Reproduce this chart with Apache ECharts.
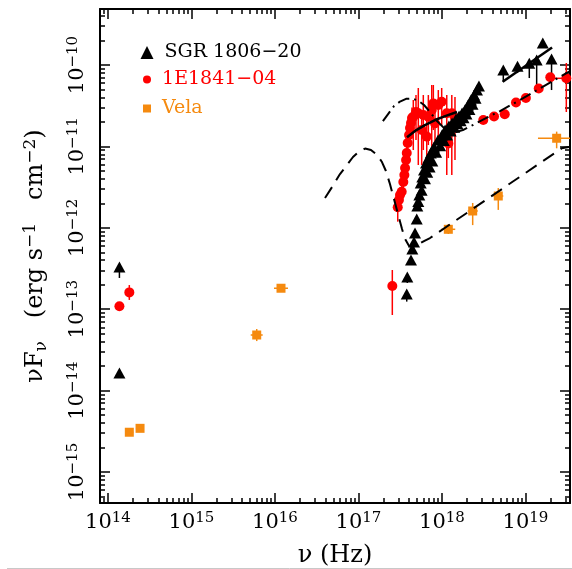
<!DOCTYPE html>
<html><head><meta charset="utf-8">
<script src="https://cdn.jsdelivr.net/npm/echarts@6/dist/echarts.min.js"></script>
<style>html,body{margin:0;padding:0;background:#fff}#c{width:572px;height:569px}</style>
</head><body><div id="c"></div>
<script>
// ---- axis ranges and ticks ----
const X_RANGE = [8.02e13, 3.41e19];
const Y_RANGE = [4.16e-16, 4.88e-10];
const xTickExps = [14, 15, 16, 17, 18, 19];
const yTickExps = [-15, -14, -13, -12, -11, -10];

// ---- SGR 1806-20 (black triangles) ----
const sgrNu = [1.37e14, 1.37e14, 3.78e17, 3.84e17, 4.25e17, 4.41e17, 4.62e17, 4.75e17, 4.98e17, 5.06e17, 5.35e17, 5.56e17, 5.81e17, 6.09e17, 6.43e17, 6.86e17, 7.33e17, 8.02e17, 8.96e17, 1.00e18, 1.09e18, 1.21e18, 1.32e18, 1.47e18, 1.60e18, 1.74e18, 1.88e18, 2.05e18, 2.22e18, 2.42e18, 2.62e18, 2.77e18, 5.42e18, 8.02e18, 1.11e19, 1.36e19, 1.61e19, 2.05e19];
const sgrF = [3.30e-13, 1.64e-14, 1.54e-13, 2.49e-13, 4.02e-13, 5.49e-13, 6.69e-13, 8.63e-13, 1.28e-12, 1.85e-12, 2.53e-12, 3.55e-12, 4.21e-12, 5.13e-12, 6.25e-12, 7.20e-12, 8.30e-12, 9.83e-12, 1.20e-11, 1.38e-11, 1.59e-11, 1.78e-11, 1.94e-11, 2.17e-11, 2.36e-11, 2.57e-11, 2.80e-11, 3.23e-11, 3.72e-11, 4.28e-11, 4.93e-11, 5.52e-11, 8.68e-11, 9.64e-11, 1.05e-10, 1.15e-10, 1.86e-10, 1.19e-10];
const sgrFLo = [2.42e-13, null, 1.24e-13, 2.10e-13, null, null, null, null, null, null, null, null, null, null, null, null, null, null, null, null, null, null, null, null, null, null, null, null, null, null, null, null, 6.18e-11, 7.97e-11, 6.92e-11, 5.22e-11, null, 4.93e-11];
const sgrFHi = [];
// extra SGR spectral bins in the dense 1-10 keV band
const sgrBandNu = [5.20e17, 5.70e17, 6.25e17, 6.65e17, 7.10e17, 7.65e17, 8.50e17, 9.50e17, 1.05e18, 1.15e18, 1.27e18, 1.40e18, 1.53e18, 1.67e18, 1.81e18, 1.96e18, 2.13e18, 2.32e18, 2.52e18];
const sgrBandF = [2.10e-12, 2.90e-12, 4.00e-12, 4.80e-12, 5.60e-12, 6.60e-12, 8.50e-12, 1.02e-11, 1.18e-11, 1.38e-11, 1.55e-11, 1.72e-11, 1.90e-11, 2.07e-11, 2.25e-11, 2.50e-11, 2.85e-11, 3.30e-11, 3.90e-11];

// ---- 1E1841-045 (red circles) ----
const axpNu = [1.37e14, 1.80e14, 2.54e17, 2.95e17, 3.05e17, 3.14e17, 3.29e17, 3.44e17, 3.54e17, 3.61e17, 3.71e17, 3.78e17, 3.88e17, 4.03e17, 4.14e17, 4.25e17, 4.37e17, 4.53e17, 4.88e17, 5.20e17, 5.71e17, 5.97e17, 6.56e17, 6.86e17, 7.53e17, 7.87e17, 8.24e17, 9.03e17, 9.91e17, 1.14e18, 1.19e18, 1.31e18, 1.43e18, 3.12e18, 4.20e18, 5.64e18, 7.69e18, 1.01e19, 1.44e19, 1.98e19, 3.08e19];
const axpF = [1.09e-13, 1.61e-13, 1.93e-13, 1.79e-12, 2.20e-12, 2.53e-12, 2.77e-12, 3.65e-12, 4.45e-12, 5.43e-12, 6.81e-12, 8.30e-12, 1.10e-11, 1.38e-11, 1.68e-11, 1.94e-11, 2.23e-11, 2.32e-11, 2.65e-11, 2.55e-11, 1.59e-11, 2.43e-11, 1.32e-11, 2.32e-11, 2.80e-11, 3.38e-11, 1.92e-11, 3.23e-11, 3.54e-11, 2.55e-11, 1.09e-11, 2.55e-11, 2.23e-11, 2.11e-11, 2.33e-11, 2.49e-11, 3.46e-11, 3.93e-11, 5.14e-11, 7.06e-11, 6.87e-11];
const axpFLo = [null, 1.30e-13, 8.49e-14, 1.19e-12, 1.80e-12, 2.00e-12, 2.30e-12, 3.00e-12, 3.60e-12, 4.40e-12, 5.50e-12, 6.80e-12, 8.80e-12, 1.05e-11, 1.30e-11, 1.40e-11, 1.60e-11, 9.03e-12, 1.20e-11, 5.91e-12, 5.91e-12, 9.03e-12, 6.81e-12, 1.04e-11, 9.03e-12, 1.59e-11, 7.84e-12, 1.20e-11, 1.83e-11, 4.45e-12, 7.20e-12, 4.45e-12, 6.81e-12, null, null, null, null, null, null, null, 2.65e-11];
const axpFHi = [null, 1.98e-13, 3.03e-13, 2.30e-12, 2.70e-12, 3.10e-12, 3.40e-12, 4.40e-12, 5.50e-12, 6.60e-12, 8.40e-12, 1.00e-11, 1.35e-11, 1.80e-11, 2.20e-11, 2.60e-11, 3.00e-11, 3.72e-11, 4.28e-11, 5.22e-11, 2.80e-11, 4.28e-11, 2.43e-11, 4.28e-11, 5.68e-11, 5.68e-11, 3.23e-11, 4.93e-11, 5.22e-11, 4.28e-11, 1.59e-11, 4.28e-11, 4.04e-11, null, null, null, null, null, null, null, 1.06e-10];
const axpNuLo = []; axpNuLo[40] = 1.97e19;
const axpNuHi = []; axpNuHi[40] = 3.55e19;

// ---- Vela (orange squares) ----
const velaNu = [1.80e14, 2.42e14, 6.04e15, 1.18e16, 1.19e18, 2.33e18, 4.72e18, 2.36e19];
const velaF = [3.08e-15, 3.44e-15, 4.82e-14, 1.81e-13, 9.59e-13, 1.61e-12, 2.46e-12, 1.26e-11];
const velaNuLo = [1.61e14, 2.16e14, 5.12e15, 9.73e15, 9.81e17, 2.03e18, 4.11e18, 1.41e19];
const velaNuHi = [2.01e14, 2.70e14, 7.12e15, 1.43e16, 1.44e18, 2.68e18, 5.42e18, 3.41e19];
const velaFLo = [2.81e-15, 3.20e-15, 4.06e-14, 1.65e-13, 8.39e-13, 1.08e-12, 1.66e-12, 9.48e-12];
const velaFHi = [3.37e-15, 3.70e-15, 5.71e-14, 1.98e-13, 1.11e-12, 2.02e-12, 3.08e-12, 1.52e-11];

// ---- model curves ----
const dashNu = [3.97e16, 4.82e16, 6.00e16, 7.28e16, 8.59e16, 1.01e17, 1.20e17, 1.41e17, 1.67e17, 1.91e17, 2.13e17, 2.38e17, 2.66e17, 2.97e17, 3.32e17, 3.61e17, 4.03e17, 4.50e17, 5.16e17, 6.25e17, 7.18e17, 2.71e19, 3.41e19];
const dashF = [2.32e-12, 3.17e-12, 4.58e-12, 5.91e-12, 7.41e-12, 8.66e-12, 9.42e-12, 9.03e-12, 7.84e-12, 6.43e-12, 4.99e-12, 3.45e-12, 2.26e-12, 1.48e-12, 9.67e-13, 7.29e-13, 5.98e-13, 5.81e-13, 6.23e-13, 6.98e-13, 7.49e-13, 9.48e-12, 9.92e-12];
const dashDotNu = [1.96e17, 2.26e17, 2.66e17, 3.14e17, 3.71e17, 4.37e17, 5.16e17, 6.09e17, 7.18e17, 8.71e17, 1.06e18, 1.25e18, 1.47e18, 1.78e18, 2.29e18, 3.27e18, 4.95e18, 8.59e18, 1.49e19, 2.59e19, 3.41e19];
const dashDotF = [2.05e-11, 2.50e-11, 3.13e-11, 3.56e-11, 3.84e-11, 3.88e-11, 3.66e-11, 3.23e-11, 2.65e-11, 2.05e-11, 1.68e-11, 1.52e-11, 1.50e-11, 1.59e-11, 1.81e-11, 2.20e-11, 2.72e-11, 3.72e-11, 5.17e-11, 7.18e-11, 8.44e-11];
const solidSoftNu = [3.81e17, 4.75e17, 6.25e17, 8.24e17, 1.09e18, 1.51e18];
const solidSoftF = [1.30e-11, 1.55e-11, 1.83e-11, 2.11e-11, 2.36e-11, 2.65e-11];
const solidHardNu = [5.33e18, 2.08e19];
const solidHardF = [6.24e-11, 1.64e-10];

// ---- names / colours ----
const NAME_SGR = 'SGR 1806\u221220';
const NAME_AXP = '1E1841\u221204';
const NAME_VELA = 'Vela';
const C_BLACK = '#000000', C_RED = '#ff0000', C_ORANGE = '#f58a0f';
const FONT = 'DejaVu Serif';

const L = Math.log10;
function minorTicks(lo, hi) {
  const out = [];
  for (let d = Math.floor(lo) - 1; d <= Math.ceil(hi); d++)
    for (let k = 2; k <= 9; k++) { const v = d + L(k); if (v > lo && v < hi) out.push(v); }
  return out;
}
const xMin = L(X_RANGE[0]), xMax = L(X_RANGE[1]);
const yMin = L(Y_RANGE[0]), yMax = L(Y_RANGE[1]);
const xMinor = minorTicks(xMin, xMax), yMinor = minorTicks(yMin, yMax);

function pts(nu, f) { return nu.map((v, i) => [L(v), L(f[i])]); }
function errPts(nu, f, nLo, nHi, fLo, fHi) {
  return nu.map((v, i) => {
    const x = L(v), y = L(f[i]);
    return [x, y,
      nLo[i] != null ? L(nLo[i]) : x, nHi[i] != null ? L(nHi[i]) : x,
      fLo[i] != null ? L(fLo[i]) : y, fHi[i] != null ? L(fHi[i]) : y];
  });
}
function errSeries(data, color) {
  return {
    type: 'custom', silent: true, clip: true, xAxisIndex: 0, yAxisIndex: 0,
    dimensions: ['x', 'y', 'xl', 'xh', 'yl', 'yh'], encode: { x: 0, y: 1 },
    data: data,
    renderItem: function (params, api) {
      const x = api.value(0), y = api.value(1), xl = api.value(2), xh = api.value(3), yl = api.value(4), yh = api.value(5);
      const ch = [];
      if (yl !== yh) { const a = api.coord([x, yl]), b = api.coord([x, yh]); ch.push({ type: 'line', shape: { x1: a[0], y1: a[1], x2: b[0], y2: b[1] }, style: { stroke: color, lineWidth: 1.5 } }); }
      if (xl !== xh) { const a = api.coord([xl, y]), b = api.coord([xh, y]); ch.push({ type: 'line', shape: { x1: a[0], y1: a[1], x2: b[0], y2: b[1] }, style: { stroke: color, lineWidth: 1.5 } }); }
      return { type: 'group', children: ch };
    }
  };
}
function lineSeries(nu, f, type, width) {
  return { type: 'line', silent: true, xAxisIndex: 0, yAxisIndex: 0, data: pts(nu, f), showSymbol: false, symbol: 'none',
    lineStyle: { color: C_BLACK, width: width, type: type }, z: 3 };
}
function scatterSeries(name, data, symbol, size, color) {
  return { type: 'scatter', name: name, data: data, symbol: symbol, symbolSize: size, silent: true,
    itemStyle: { color: color, opacity: 1 } };
}

const rich = {
  b: { fontSize: 21, fontFamily: FONT, color: '#000', lineHeight: 24 },
  s: { fontSize: 15, fontFamily: FONT, color: '#000', lineHeight: 14, verticalAlign: 'top' }
};
const baseAxis = { type: 'value', splitLine: { show: false }, axisLine: { show: false, onZero: false } };
function majorTick(vals) { return { show: true, inside: true, length: 10, customValues: vals, lineStyle: { color: '#000', width: 1.5 } }; }
function minorTick(vals) { return { show: true, inside: true, length: 5, customValues: vals, lineStyle: { color: '#000', width: 1.5 } }; }
const frameLine = { show: true, onZero: false, lineStyle: { color: '#000', width: 2 } };

const xAxes = [
  Object.assign({}, baseAxis, { position: 'bottom', min: xMin, max: xMax, axisLine: frameLine, axisTick: majorTick(xTickExps),
    axisLabel: { show: true, customValues: xTickExps, margin: 8, formatter: v => '{b|10}{s|' + Math.round(v) + '}', rich: rich },
    name: '\u03bd (Hz)', nameLocation: 'middle', nameGap: 41, nameTextStyle: { fontSize: 24, fontFamily: FONT, color: '#000' } }),
  Object.assign({}, baseAxis, { position: 'bottom', min: xMin, max: xMax, axisTick: minorTick(xMinor), axisLabel: { show: false } }),
  Object.assign({}, baseAxis, { position: 'top', min: xMin, max: xMax, axisLine: frameLine, axisTick: majorTick(xTickExps), axisLabel: { show: false } }),
  Object.assign({}, baseAxis, { position: 'top', min: xMin, max: xMax, axisTick: minorTick(xMinor), axisLabel: { show: false } })
];
const yAxes = [
  Object.assign({}, baseAxis, { position: 'left', min: yMin, max: yMax, axisLine: frameLine, axisTick: majorTick(yTickExps),
    axisLabel: { show: true, customValues: yTickExps, rotate: 90, margin: 10, formatter: v => '{b|10}{s|\u2212' + Math.abs(Math.round(v)) + '}', rich: rich },
    name: '{t|\u03bdF}{sub|\u03bd}{t|   (erg s}{s|\u22121}{t|   cm}{s|\u22122}{t|)}', nameLocation: 'middle', nameGap: 50,
    nameTextStyle: { rich: {
      t: { fontSize: 24, fontFamily: FONT, color: '#000', lineHeight: 28 },
      sub: { fontSize: 17, fontFamily: FONT, color: '#000', lineHeight: 16, verticalAlign: 'bottom' },
      s: { fontSize: 17, fontFamily: FONT, color: '#000', lineHeight: 16, verticalAlign: 'top' } } } }),
  Object.assign({}, baseAxis, { position: 'left', min: yMin, max: yMax, axisTick: minorTick(yMinor), axisLabel: { show: false } }),
  Object.assign({}, baseAxis, { position: 'right', min: yMin, max: yMax, axisLine: frameLine, axisTick: majorTick(yTickExps), axisLabel: { show: false } }),
  Object.assign({}, baseAxis, { position: 'right', min: yMin, max: yMax, axisTick: minorTick(yMinor), axisLabel: { show: false } })
];

function legendFor(name, icon, size, top, color) {
  return { data: [{ name: name, icon: icon }], left: 147 - size / 2, top: top, orient: 'vertical', selectedMode: false,
    itemWidth: size, itemHeight: size, padding: 0, formatter: n => ' ' + n,
    textStyle: { color: color, fontSize: 19, fontFamily: FONT } };
}

const option = {
  animation: false,
  backgroundColor: '#fff',
  grid: { left: 100, right: 2, top: 9, bottom: 66, outerBoundsMode: 'none', containLabel: false },
  xAxis: xAxes,
  yAxis: yAxes,
  legend: [
    legendFor(NAME_SGR, 'triangle', 13, 43, C_BLACK),
    legendFor(NAME_AXP, 'circle', 8, 70, C_RED),
    legendFor(NAME_VELA, 'rect', 8, 99, C_ORANGE)
  ],
  graphic: [{ type: 'line', shape: { x1: 7, y1: 568.5, x2: 572, y2: 568.5 }, style: { stroke: '#c8c8c8', lineWidth: 1 }, silent: true }],
  series: [
    lineSeries(dashNu, dashF, [13, 8], 2),
    lineSeries(dashDotNu, dashDotF, [12, 5, 2, 5], 2),
    errSeries(errPts(velaNu, velaF, velaNuLo, velaNuHi, velaFLo, velaFHi), C_ORANGE),
    scatterSeries(NAME_VELA, pts(velaNu, velaF), 'rect', 9, C_ORANGE),
    errSeries(errPts(axpNu, axpF, axpNuLo, axpNuHi, axpFLo, axpFHi), C_RED),
    scatterSeries(NAME_AXP, pts(axpNu, axpF), 'circle', 10, C_RED),
    errSeries(errPts(sgrNu, sgrF, [], [], sgrFLo, sgrFHi), C_BLACK),
    scatterSeries(NAME_SGR, pts(sgrNu, sgrF), 'triangle', [12, 11], C_BLACK),
    scatterSeries('SGR band', pts(sgrBandNu, sgrBandF), 'triangle', [12, 11], C_BLACK),
    lineSeries(solidSoftNu, solidSoftF, 'solid', 2.5),
    lineSeries(solidHardNu, solidHardF, 'solid', 2.5)
  ]
};
const chart = echarts.init(document.getElementById('c'), null, { renderer: 'canvas' });
chart.setOption(option);
</script>
</body></html>
